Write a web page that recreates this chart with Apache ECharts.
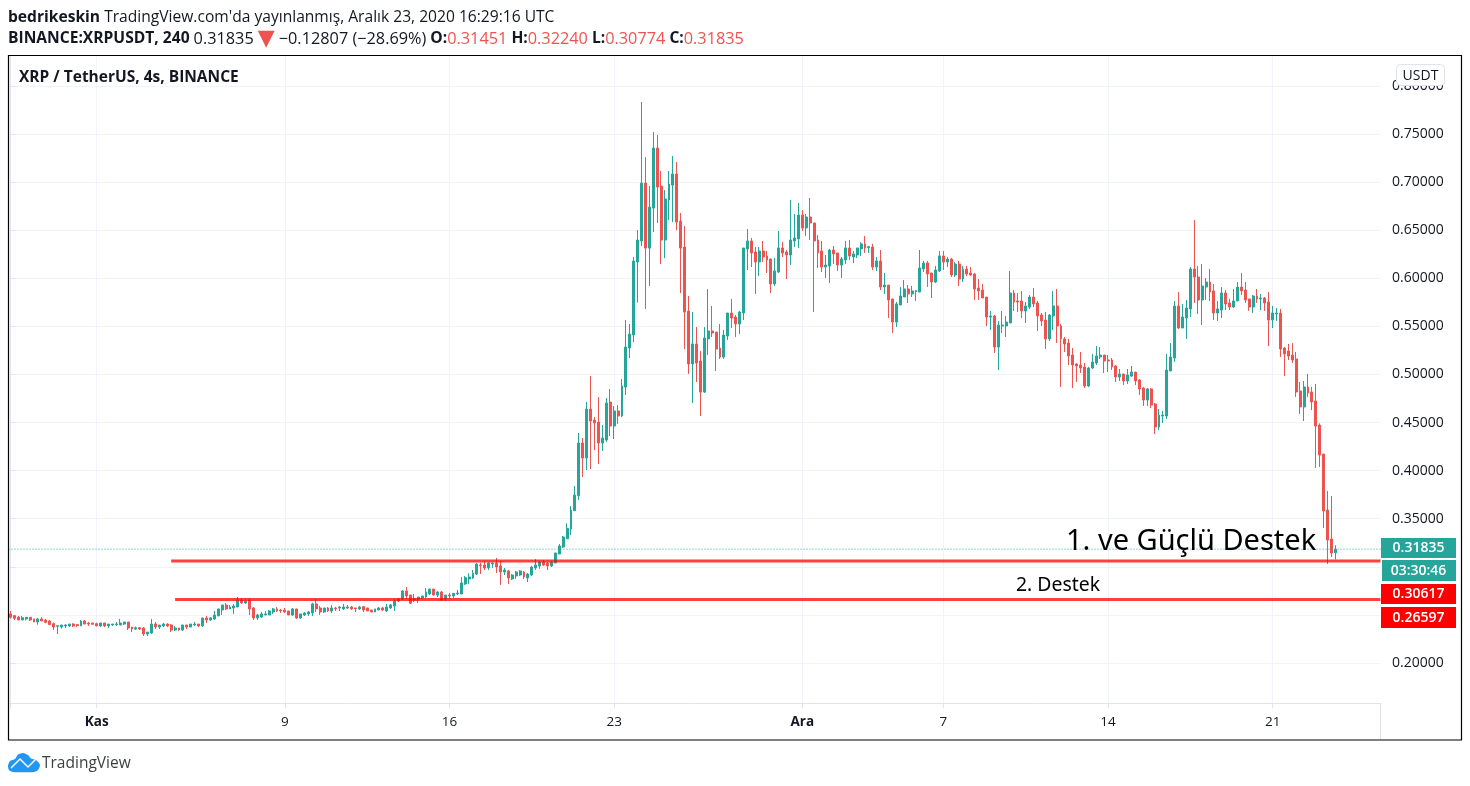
<!DOCTYPE html>
<html><head><meta charset="utf-8">
<style>html,body{margin:0;padding:0;background:#fff}#c{width:1470px;height:786px}</style>
<script src="https://cdn.jsdelivr.net/npm/echarts@6/dist/echarts.min.js"></script>
</head><body><div id="c"></div>
<script>
const opens=[
.2510,.2492,.2478,.2447,.2458,.2475,.2458,.2426,.2458,.2447,
.2437,.2409,.2381,.2374,.2385,.2385,.2405,.2399,.2385,.2437,
.2416,.2416,.2409,.2385,.2416,.2385,.2395,.2399,.2395,.2405,
.2426,.2374,.2353,.2367,.2364,.2302,.2312,.2405,.2374,.2385,
.2405,.2395,.2343,.2364,.2343,.2395,.2374,.2395,.2405,.2385,
.2468,.2447,.2458,.2489,.2551,.2603,.2562,.2572,.2582,.2655,
.2624,.2655,.2572,.2468,.2478,.2499,.2499,.2530,.2562,.2551,
.2551,.2541,.2499,.2562,.2468,.2499,.2510,.2520,.2614,.2572,
.2530,.2572,.2541,.2572,.2572,.2562,.2572,.2582,.2572,.2562,
.2586,.2572,.2551,.2530,.2551,.2572,.2541,.2572,.2593,.2666,
.2666,.2749,.2707,.2655,.2666,.2676,.2686,.2717,.2769,.2707,
.2738,.2666,.2707,.2697,.2717,.2717,.2822,.2874,.2884,.2925,
.3019,.3019,.2988,.3029,.3040,.3009,.2946,.2957,.2874,.2905,
.2915,.2946,.2884,.2915,.2988,.3009,.3050,.3040,.3009,.3040,
.3133,.3206,.3292,.3393,.3583,.3740,.4287,.4131,.4641,.4526,
.4505,.4287,.4318,.4713,.4464,.4620,.4568,.4869,.5275,.5410,
.6169,.6387,.6990,.6314,.6730,.7354,.6959,.6397,.6813,.6969,
.7084,.6595,.6325,.5659,.5109,.5317,.5140,.4817,.5369,.5452,
.5441,.5275,.5181,.5400,.5639,.5597,.5525,.5639,.6305,.6388,
.6273,.6169,.6284,.6232,.6201,.5941,.6065,.6315,.6273,.6242,
.6388,.6409,.6658,.6523,.6637,.6575,.6398,.6284,.6117,.6128,
.6294,.6263,.6138,.6190,.6315,.6221,.6242,.6305,.6357,.6318,
.6325,.6117,.6180,.5909,.5930,.5785,.5545,.5722,.5805,.5889,
.5837,.5861,.5857,.6097,.6159,.6055,.5961,.6076,.6232,.6169,
.6200,.6034,.6148,.5992,.6096,.6055,.6044,.5899,.5878,.5805,
.5597,.5608,.5285,.5504,.5504,.5535,.5847,.5764,.5764,.5660,
.5701,.5805,.5743,.5618,.5566,.5369,.5608,.5712,.5504,.5369,
.5327,.5202,.5109,.5098,.5078,.4880,.5067,.5119,.5182,.5202,
.5150,.5150,.5088,.4974,.5005,.4932,.4984,.5025,.4942,.4859,
.4734,.4849,.4693,.4454,.4568,.4568,.5036,.5171,.5712,.5483,
.5587,.5681,.6097,.6013,.5774,.5909,.5961,.5868,.5639,.5670,
.5847,.5743,.5701,.5764,.5909,.5878,.5785,.5701,.5816,.5785,
.5795,.5753,.5566,.5629,.5639,.5275,.5244,.5202,.5161,.4828,
.4662,.4870,.4818,.4724,.4474,.4172,.3590,.3289,.31451];
const closes=[
.2475,.2464,.2447,.2471,.2475,.2447,.2426,.2458,.2437,.2423,
.2399,.2374,.2388,.2395,.2395,.2405,.2385,.2388,.2437,.2405,
.2405,.2402,.2385,.2416,.2385,.2405,.2405,.2405,.2416,.2426,
.2364,.2353,.2367,.2353,.2302,.2322,.2405,.2374,.2395,.2405,
.2385,.2343,.2364,.2343,.2395,.2374,.2405,.2405,.2385,.2468,
.2447,.2468,.2499,.2562,.2603,.2562,.2582,.2593,.2655,.2624,
.2645,.2562,.2468,.2499,.2510,.2510,.2541,.2562,.2541,.2541,
.2530,.2499,.2562,.2468,.2510,.2520,.2530,.2614,.2562,.2530,
.2572,.2541,.2572,.2562,.2582,.2582,.2582,.2562,.2565,.2582,
.2551,.2541,.2530,.2562,.2572,.2551,.2582,.2603,.2645,.2645,
.2749,.2697,.2620,.2666,.2686,.2697,.2738,.2769,.2707,.2738,
.2655,.2707,.2697,.2724,.2728,.2832,.2887,.2894,.2932,.3029,
.3012,.2988,.3040,.3040,.2998,.2946,.2967,.2884,.2915,.2946,
.2957,.2894,.2925,.2998,.3019,.3050,.3019,.3009,.3050,.3144,
.3217,.3310,.3400,.3590,.3746,.4287,.4131,.4641,.4516,.4495,
.4287,.4339,.4703,.4464,.4620,.4568,.4880,.5285,.5420,.6179,
.6397,.6990,.6314,.6740,.7354,.6948,.6397,.6824,.6980,.7084,
.6584,.6314,.5649,.5109,.5317,.5119,.4817,.5379,.5452,.5431,
.5264,.5181,.5410,.5639,.5587,.5525,.5649,.6315,.6388,.6263,
.6169,.6284,.6221,.6190,.5941,.6076,.6315,.6263,.6242,.6398,
.6419,.6658,.6523,.6637,.6575,.6388,.6263,.6117,.6138,.6294,
.6253,.6138,.6201,.6315,.6232,.6253,.6315,.6357,.6315,.6329,
.6117,.6180,.5909,.5930,.5774,.5545,.5733,.5816,.5889,.5837,
.5868,.5871,.6107,.6159,.6045,.5961,.6086,.6232,.6169,.6200,
.6034,.6148,.5992,.6096,.6044,.6034,.5888,.5868,.5795,.5597,
.5608,.5285,.5514,.5514,.5545,.5847,.5753,.5753,.5660,.5712,
.5805,.5733,.5608,.5556,.5369,.5618,.5712,.5504,.5369,.5317,
.5192,.5098,.5088,.5067,.4880,.5067,.5129,.5192,.5202,.5140,
.5140,.5078,.4974,.5005,.4932,.4994,.5025,.4932,.4849,.4734,
.4849,.4682,.4454,.4578,.4578,.5046,.5182,.5712,.5483,.5597,
.5691,.6097,.6013,.5774,.5920,.5961,.5857,.5639,.5681,.5847,
.5733,.5701,.5764,.5909,.5868,.5774,.5701,.5816,.5785,.5795,
.5743,.5566,.5639,.5639,.5265,.5213,.5192,.5150,.4818,.4662,
.4870,.4807,.4714,.4464,.4162,.3580,.3278,.3143,.31835];
const lows=[
.2461,.2447,.2447,.2447,.2443,.2437,.2426,.2399,.2437,.2413,
.2395,.2343,.2302,.2357,.2364,.2374,.2374,.2374,.2385,.2405,
.2385,.2402,.2385,.2374,.2374,.2364,.2385,.2385,.2395,.2395,
.2343,.2322,.2343,.2343,.2281,.2281,.2302,.2353,.2353,.2374,
.2374,.2322,.2333,.2333,.2333,.2353,.2374,.2385,.2374,.2374,
.2416,.2437,.2447,.2489,.2499,.2551,.2562,.2510,.2582,.2614,
.2614,.2499,.2447,.2447,.2468,.2499,.2499,.2510,.2530,.2520,
.2520,.2499,.2489,.2458,.2458,.2489,.2489,.2489,.2530,.2499,
.2520,.2530,.2520,.2541,.2541,.2551,.2562,.2551,.2530,.2551,
.2530,.2541,.2530,.2530,.2551,.2541,.2530,.2562,.2541,.2634,
.2655,.2666,.2614,.2634,.2624,.2666,.2676,.2707,.2697,.2686,
.2645,.2645,.2666,.2676,.2707,.2717,.2811,.2822,.2874,.2915,
.2925,.2967,.2967,.2988,.2936,.2811,.2915,.2822,.2863,.2874,
.2905,.2874,.2842,.2905,.2967,.2978,.3009,.2967,.2998,.3040,
.3133,.3196,.3292,.3330,.3583,.3695,.3934,.4006,.4017,.4214,
.4069,.4204,.4297,.4360,.4329,.4485,.4557,.4786,.5171,.5337,
.5746,.6335,.5680,.5919,.6480,.6574,.6148,.6210,.6605,.6584,
.6501,.5846,.5264,.5005,.4703,.4921,.4568,.4807,.5202,.5389,
.5036,.5161,.5161,.5358,.5483,.5390,.5421,.5566,.6086,.6117,
.5837,.6024,.6169,.6055,.5847,.5920,.6055,.6221,.5993,.6138,
.6325,.6315,.6492,.6440,.6398,.5649,.6107,.6065,.6003,.5951,
.6149,.6076,.6003,.6149,.6190,.6159,.6211,.6232,.6263,.6263,
.6086,.6076,.5878,.5837,.5587,.5431,.5493,.5722,.5805,.5743,
.5805,.5764,.5857,.6065,.5909,.5795,.5951,.6065,.6086,.6117,
.6013,.6013,.5920,.5961,.6024,.6024,.5774,.5774,.5795,.5504,
.5462,.5223,.5046,.5431,.5389,.5535,.5660,.5649,.5587,.5535,
.5680,.5701,.5452,.5504,.5265,.5348,.5462,.5327,.4870,.5233,
.5098,.4859,.4922,.5015,.4859,.4870,.5057,.5098,.5161,.5015,
.5025,.5046,.4922,.4932,.4890,.4901,.4974,.4890,.4786,.4672,
.4672,.4651,.4381,.4422,.4495,.4537,.5036,.5130,.5473,.5483,
.5369,.5597,.5743,.5629,.5514,.5774,.5764,.5566,.5556,.5587,
.5670,.5670,.5691,.5764,.5826,.5743,.5660,.5639,.5743,.5670,
.5660,.5296,.5483,.5556,.5182,.4984,.5150,.5119,.4766,.4589,
.4516,.4766,.4630,.4027,.4037,.3403,.3029,.3102,.30774];
const highs=[
.2541,.2499,.2489,.2489,.2475,.2475,.2458,.2468,.2475,.2458,
.2447,.2419,.2388,.2395,.2405,.2405,.2413,.2405,.2447,.2447,
.2426,.2416,.2419,.2416,.2416,.2405,.2405,.2426,.2458,.2426,
.2426,.2374,.2378,.2374,.2374,.2322,.2458,.2426,.2395,.2416,
.2413,.2405,.2385,.2364,.2395,.2395,.2405,.2426,.2405,.2468,
.2489,.2478,.2541,.2562,.2603,.2624,.2603,.2614,.2686,.2672,
.2666,.2672,.2582,.2510,.2530,.2541,.2551,.2572,.2582,.2562,
.2572,.2541,.2572,.2562,.2510,.2530,.2541,.2627,.2666,.2593,
.2572,.2582,.2603,.2582,.2593,.2614,.2603,.2593,.2572,.2593,
.2593,.2572,.2551,.2562,.2582,.2582,.2614,.2614,.2666,.2676,
.2759,.2790,.2707,.2718,.2686,.2697,.2780,.2769,.2769,.2749,
.2749,.2707,.2728,.2724,.2759,.2894,.2905,.2932,.2967,.3040,
.3040,.3061,.3050,.3040,.3092,.3061,.2988,.2967,.2925,.2957,
.2967,.2957,.2936,.3009,.3081,.3061,.3071,.3050,.3061,.3144,
.3237,.3321,.3452,.3632,.3840,.4391,.4339,.4713,.4984,.4557,
.4765,.4474,.4755,.4849,.4672,.4682,.4953,.5566,.5524,.6221,
.6501,.7832,.7260,.6959,.7520,.7489,.7115,.6917,.7115,.7271,
.7208,.6678,.6543,.5815,.5649,.5493,.5244,.5493,.5888,.5712,
.5441,.5524,.5462,.5639,.5785,.5618,.5660,.6315,.6512,.6419,
.6325,.6325,.6388,.6284,.6201,.6211,.6492,.6377,.6294,.6814,
.6668,.6783,.6710,.6668,.6835,.6575,.6450,.6388,.6242,.6305,
.6336,.6263,.6221,.6388,.6398,.6284,.6315,.6377,.6440,.6336,
.6357,.6221,.6294,.6055,.5930,.5785,.5753,.5909,.5982,.5930,
.5920,.5878,.6294,.6180,.6180,.6055,.6128,.6284,.6284,.6221,
.6211,.6169,.6180,.6128,.6128,.6117,.6055,.5992,.5940,.5805,
.5660,.5618,.5556,.5660,.5608,.6076,.5878,.5847,.5868,.5753,
.5826,.5899,.5764,.5639,.5649,.5628,.5868,.5888,.5525,.5389,
.5369,.5275,.5119,.5233,.5119,.5078,.5213,.5296,.5285,.5202,
.5202,.5171,.5098,.5057,.5005,.5057,.5088,.5025,.4953,.4870,
.4859,.4859,.4703,.4641,.4620,.5213,.5327,.5764,.5857,.5733,
.5774,.6117,.6606,.6128,.6149,.6003,.6097,.5941,.5764,.5909,
.5878,.5785,.5889,.5961,.6055,.5961,.5785,.5826,.5889,.5837,
.5805,.5857,.5712,.5691,.5681,.5286,.5317,.5327,.5234,.4922,
.4932,.5005,.4870,.4901,.4491,.4172,.3788,.3736,.32240];

const slotCount=350;
const tickIndexes=[22,70,112,154,202,238,280,322];
const tickLabels=['Kas','9','16','23','Ara','7','14','21'];
const monthLabels=['Kas','Ara'];
const lastPrice=0.31835;
const support1=0.30617;
const support2=0.26597;
const support1Start=41;
const support2Start=42;
const countdown='03:30:46';

const categories=Array.from({length:slotCount},(_,i)=>String(i));
const candleData=opens.map((o,i)=>[o,closes[i],lows[i],highs[i]]);
const UP='#26a69a',DOWN='#ef5350',GRID='#f0f3fa',AXIS='#e0e3eb',TXT='#131722';
const FONT='"Open Sans","Noto Sans",sans-serif';
const isTick=i=>tickIndexes.includes(i);
const fmt=v=>v.toFixed(5);
const tag=(y,h,color,text,x,w)=>[
 {type:'rect',z:70,shape:{x:x,y:y,width:w,height:h},style:{fill:color}},
 {type:'text',z:71,x:1418.5,y:y+h/2+0.5,style:{text:text,fill:'#fff',font:'600 14px '+FONT,textAlign:'center',textVerticalAlign:'middle'}}
];
const bold=s=>'{b|'+s+'}',red=s=>'{r|'+s+'}';
const HS=15.6,NS=16.3;
const OS='"Open Sans"';
const rich={b:{fontWeight:700,fill:TXT,fontSize:HS,fontFamily:OS},n:{fill:TXT,fontSize:HS,fontFamily:OS},v:{fill:TXT,fontSize:NS,fontFamily:OS},
  r:{fill:DOWN,fontSize:NS,fontFamily:OS},t:{fill:DOWN,fontSize:22,fontFamily:'"DejaVu Sans"'}};
const graphics=[
 {type:'rect',z:50,shape:{x:0,y:0,width:1470,height:55},style:{fill:'#fff'}},
 {type:'rect',z:50,shape:{x:9,y:708.5,width:1380,height:6},style:{fill:'#fff'}},
 {type:'line',z:60,shape:{x1:1380.5,y1:703,x2:1380.5,y2:740},style:{stroke:AXIS,lineWidth:1}},
 {type:'rect',z:60,shape:{x:8.5,y:55.5,width:1453,height:684.5},style:{fill:'none',stroke:'#000',lineWidth:1.2}},
 {type:'text',z:71,x:8,y:17.5,style:{text:bold('bedrikeskin')+'{n| TradingView.com\'da yayınlanmış, Aralık 23, 2020 16:29:16 UTC}',rich:rich,textVerticalAlign:'middle'}},
 {type:'text',z:71,x:8,y:39,style:{text:bold('BINANCE:XRPUSDT, 240')+'{n| }{v|'+fmt(lastPrice)+'}{n| }{t|▼}{n| }{v|−0.12807 (−28.69%)}{n| }'+bold('O:')+red('0.31451')+'{n| }'+bold('H:')+red('0.32240')+'{n| }'+bold('L:')+red('0.30774')+'{n| }'+bold('C:')+red('0.31835'),rich:rich,textVerticalAlign:'middle'}},
 {type:'text',z:71,x:19,y:77.5,style:{text:'XRP / TetherUS, 4s, BINANCE',fill:TXT,font:'700 15.5px '+FONT,textVerticalAlign:'middle'}},
 {type:'rect',z:70,shape:{x:1396.5,y:64.5,width:48,height:21,r:4},style:{fill:'#fff',stroke:AXIS,lineWidth:1}},
 {type:'text',z:71,x:1420.5,y:76,style:{text:'USDT',fill:TXT,font:'14px '+FONT,textAlign:'center',textVerticalAlign:'middle'}},
 {type:'text',z:71,x:1066,y:542,style:{text:'1. ve Güçlü Destek',fill:'#000',font:'29px "Noto Sans"',textVerticalAlign:'middle'}},
 {type:'text',z:71,x:1016,y:585,style:{text:'2. Destek',fill:'#000',font:'19.4px "Noto Sans"',textVerticalAlign:'middle'}},
 ...tag(538,20,UP,fmt(lastPrice),1381,75),
 ...tag(560,21,UP,countdown,1382,74),
 ...tag(584,20,'#ff0000',fmt(support1),1381,75),
 ...tag(607,21,'#ff0000',fmt(support2),1381,75),
 {type:'polygon',z:70,shape:{smooth:0.25,points:[[8,766],[10,761],[15,759],[18,754.5],[23,753],[28,755],[31,758.5],[36,760],[40,765],[38,770],[34,772],[13,772],[9,770]]},style:{fill:'#2196f3'}},
 {type:'polyline',z:71,shape:{points:[[11,768],[20,759],[28,767],[36,759]]},style:{stroke:'#fff',lineWidth:1.5,fill:'none'}},
 {type:'text',z:71,x:42,y:764,style:{text:'TradingView',fill:'#3c4043',font:'15.5px '+FONT,textVerticalAlign:'middle'}}
];
const hline=(name,y,start,color,width,type)=>({name:name,type:'line',xAxisIndex:1,yAxisIndex:0,z:5,silent:true,symbol:'none',animation:false,
  data:[[start,y],[slotCount-0.5,y]],lineStyle:{color:color,width:width,type:type}});
const chart=echarts.init(document.getElementById('c'),null,{renderer:'canvas'});
chart.setOption({
 animation:false,backgroundColor:'#fff',
 grid:{left:8.5,top:37.82,width:1372,height:673.26,containLabel:false},
 xAxis:[{type:'category',data:categories,boundaryGap:true,offset:-8.08,
   axisLine:{show:true,lineStyle:{color:AXIS}},
   axisTick:{show:true,alignWithLabel:true,length:5,interval:(i)=>isTick(i),lineStyle:{color:AXIS}},
   splitLine:{show:true,alignWithLabel:true,interval:(i)=>isTick(i),lineStyle:{color:GRID}},
   axisLabel:{show:true,interval:(i)=>isTick(i),margin:12,hideOverlap:false,
     formatter:(v)=>{const k=tickLabels[tickIndexes.indexOf(+v)];return monthLabels.includes(k)?'{m|'+k+'}':'{d|'+k+'}';},
     rich:{m:{fontWeight:700,color:TXT,fontSize:13.5,fontFamily:OS},d:{color:TXT,fontSize:13.5,fontFamily:OS}}}},
  {type:'value',min:-0.5,max:slotCount-0.5,show:false,splitLine:{show:false},position:'top'}],
 yAxis:{type:'value',position:'right',min:0.15,max:0.85,interval:0.05,
   axisLine:{show:true,lineStyle:{color:AXIS}},
   axisTick:{show:true,length:5,lineStyle:{color:AXIS}},
   splitLine:{show:true,showMinLine:false,showMaxLine:false,lineStyle:{color:GRID}},
   axisLabel:{margin:11.5,color:TXT,fontSize:14,fontFamily:OS,showMinLabel:false,showMaxLabel:false,formatter:fmt}},
 series:[
  {type:'candlestick',name:'XRPUSDT',xAxisIndex:0,yAxisIndex:0,data:candleData,barWidth:2.4,z:3,silent:true,clip:false,
   itemStyle:{color:UP,color0:DOWN,borderColor:UP,borderColor0:DOWN,borderWidth:1}},
  hline('last',lastPrice,-0.5,UP,1,[1,2]),
  hline('support1',support1,support1Start,'rgba(255,0,0,0.75)',3,'solid'),
  hline('support2',support2,support2Start,'rgba(255,0,0,0.75)',3,'solid')
 ],
 graphic:{elements:graphics}
});
</script></body></html>
